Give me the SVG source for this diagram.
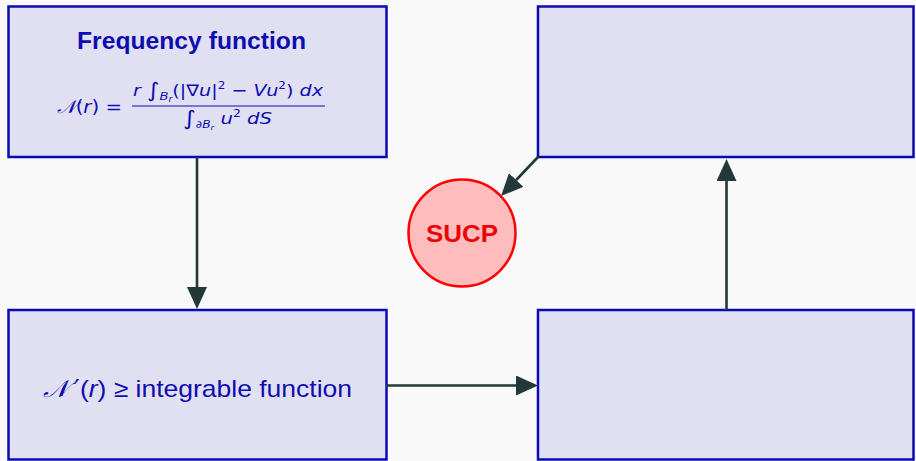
<svg xmlns="http://www.w3.org/2000/svg" width="916" height="461" viewBox="0 0 916 461">
<style>
.box{fill:#e1e0f3;stroke:#0a0ab4;stroke-width:2.5}
.t{fill:#0d0db0;font-family:"Liberation Sans","DejaVu Sans",sans-serif}
.m{fill:#0d0db0;font-family:"DejaVu Sans","Liberation Sans",sans-serif}
.i{font-style:italic}
.conn{stroke:#233838;stroke-width:2.6;fill:none;marker-end:url(#ah)}
</style>
<defs>
<marker id="ah" markerUnits="userSpaceOnUse" markerWidth="24" markerHeight="20" refX="0" refY="10" orient="auto" viewBox="0 0 24 20">
<path d="M0,0 L22,10 L0,20 z" fill="#233838"/>
</marker>
</defs>
<rect width="916" height="461" fill="#f9f9f9"/>
<g id="freq">
<rect class="box" x="8.5" y="6.5" width="378" height="150.5"/>
<text class="t" x="191.5" y="49" font-size="24" font-weight="bold" text-anchor="middle" textLength="229" lengthAdjust="spacingAndGlyphs">Frequency function</text>
<text class="m" x="57" y="113" font-size="18" textLength="65" lengthAdjust="spacingAndGlyphs"><tspan class="i">𝒩</tspan>(<tspan class="i">r</tspan>) =</text>
<text class="m" x="133" y="96" font-size="16" textLength="190" lengthAdjust="spacingAndGlyphs"><tspan class="i">r</tspan> <tspan font-size="20" dy="1">∫</tspan><tspan class="i" font-size="11" dy="3">B</tspan><tspan class="i" font-size="8" dy="2">r</tspan><tspan dy="-6">(|∇</tspan><tspan class="i">u</tspan>|<tspan font-size="10" dy="-7">2</tspan><tspan dy="7"> − </tspan><tspan class="i">Vu</tspan><tspan font-size="10" dy="-7">2</tspan><tspan dy="7">) </tspan><tspan class="i">dx</tspan></text>
<line x1="132" y1="106" x2="325" y2="106" stroke="#0d0db0" stroke-width="1"/>
<text class="m" x="183" y="124" font-size="16" textLength="89" lengthAdjust="spacingAndGlyphs"><tspan font-size="20" dy="1">∫</tspan><tspan class="i" font-size="10" dy="3">∂B</tspan><tspan class="i" font-size="7" dy="2">r</tspan><tspan class="i" dy="-6"> u</tspan><tspan font-size="10" dy="-7">2</tspan><tspan class="i" dy="7"> dS</tspan></text>
</g>
<g id="topright">
<rect class="box" x="538" y="6.5" width="375.5" height="150.5"/>
</g>
<g id="sucp">
<circle cx="462" cy="233" r="53.5" fill="#ffbcbc" stroke="#ff0000" stroke-width="2.5"/>
<text x="462" y="241.5" font-family="'Liberation Sans','DejaVu Sans',sans-serif" font-size="23" font-weight="bold" fill="#ee0000" text-anchor="middle" textLength="72" lengthAdjust="spacingAndGlyphs">SUCP</text>
</g>
<g id="deriv">
<rect class="box" x="8.5" y="310" width="378" height="149.5"/>
<text class="t" x="43" y="397" font-size="24" textLength="309" lengthAdjust="spacingAndGlyphs"><tspan class="i" font-family="'DejaVu Sans',sans-serif">𝒩</tspan><tspan dx="5" font-family="'DejaVu Sans',sans-serif">′</tspan>(<tspan class="i">r</tspan>) ≥ integrable function</text>
</g>
<g id="bottomright">
<rect class="box" x="538" y="310" width="375.5" height="149.5"/>
</g>
<g id="connectors">
<line class="conn" x1="197" y1="157" x2="197" y2="287"/>
<line class="conn" x1="386" y1="385.5" x2="516" y2="385.5"/>
<line class="conn" x1="726.5" y1="310" x2="726.5" y2="181"/>
<line class="conn" x1="538" y1="157" x2="516.2" y2="180"/>
</g>
</svg>
